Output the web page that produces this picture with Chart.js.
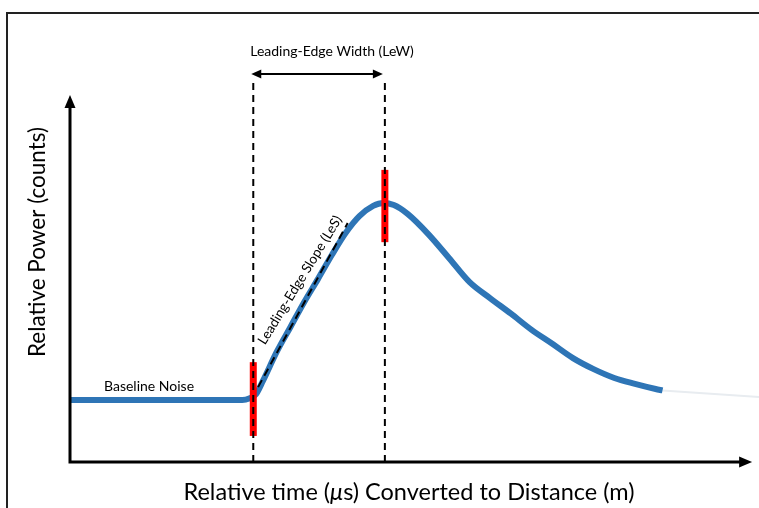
<!DOCTYPE html>
<html>
<head>
<meta charset="utf-8">
<script src="https://cdn.jsdelivr.net/npm/chart.js@4.4.0/dist/chart.umd.min.js"></script>
<style>
  body { margin: 0; background: #fff; }
  #wrap { width: 759px; height: 508px; }
</style>
</head>
<body>
<div id="wrap"><canvas id="myChart" width="759" height="508"></canvas></div>
<script>
// waveform (x = relative time, y = relative power, both 0-100)
const waveX = [0, 10, 20, 25, 26, 27, 28, 30, 32, 34, 36, 38, 40, 42, 44, 45.5, 47, 49, 52, 55, 58, 61, 64, 67, 70, 73, 76, 79, 82, 85, 86];
const waveY = [16.9, 16.9, 16.9, 16.9, 17.3, 18.5, 22.1, 30.0, 36.8, 43.6, 49.9, 56.4, 62.4, 67.0, 69.8, 70.6, 70.0, 67.6, 62.1, 55.6, 49.0, 44.6, 40.4, 36.0, 32.2, 28.3, 25.3, 22.9, 21.3, 19.9, 19.5];
// faded tail of the waveform
const tailX = [86, 100];
const tailY = [19.5, 17.7];

// leading edge start / peak markers
const edgeX = [26.6, 45.7];
const edgeLow = [7.1, 59.9];
const edgeHigh = [27.2, 79.6];
const guideTop = 103.5;
const lewY = 105.7;

// fitted leading-edge slope
const slopeX = [27.3, 40.3];
const slopeY = [20.4, 65.1];

const axisLabelX = "Relative time (μs) Converted to Distance (m)";
const axisLabelY = "Relative Power (counts)";
const lewLabel = "Leading-Edge Width (LeW)";
const lesLabel = "Leading-Edge Slope (LeS)";
const noiseLabel = "Baseline Noise";

const FONT = "Lato, 'Open Sans', sans-serif";

function pts(xs, ys) {
  return xs.map((x, i) => ({ x: x, y: ys[i] }));
}

const datasets = [];

// dashed guides (top-most)
edgeX.forEach((x) => {
  datasets.push({
    data: [{ x: x, y: 0 }, { x: x, y: guideTop }],
    borderColor: "#000",
    borderWidth: 2,
    borderDash: [7, 5],
    pointRadius: 0,
    clip: false,
    order: 0,
  });
});
datasets.push({
  data: pts(slopeX, slopeY),
  borderColor: "#000",
  borderWidth: 2,
  borderDash: [8, 5],
  pointRadius: 0,
  order: 0,
});

// red edge markers
edgeX.forEach((x, i) => {
  datasets.push({
    data: [{ x: x, y: edgeLow[i] }, { x: x, y: edgeHigh[i] }],
    borderColor: "#ff0000",
    borderWidth: 7,
    borderCapStyle: "butt",
    pointRadius: 0,
    clip: false,
    order: 1,
  });
});

// waveform
datasets.push({
  data: pts(waveX, waveY),
  borderColor: "#2e75b6",
  borderWidth: 6,
  cubicInterpolationMode: "monotone",
  pointRadius: 0,
  borderCapStyle: "butt",
  clip: false,
  order: 2,
});
datasets.push({
  data: pts(tailX, tailY),
  borderColor: "#e8ecf0",
  borderWidth: 2,
  pointRadius: 0,
  clip: false,
  order: 3,
});

function arrowHead(c, x, y, dir, len, half) {
  // dir: angle in radians the arrow points to
  c.save();
  c.translate(x, y);
  c.rotate(dir);
  c.beginPath();
  c.moveTo(0, 0);
  c.lineTo(-len, -half);
  c.lineTo(-len, half);
  c.closePath();
  c.fill();
  c.restore();
}

const decorations = {
  id: "decorations",
  afterDatasetsDraw(chart) {
    const c = chart.ctx;
    const xs = chart.scales.x;
    const ys = chart.scales.y;
    const x0 = xs.getPixelForValue(0);
    const y0 = ys.getPixelForValue(0);
    c.save();

    // frame
    c.strokeStyle = "#222";
    c.lineWidth = 2;
    c.strokeRect(7, 13, 900, 700);

    // axes with arrows
    c.strokeStyle = "#000";
    c.fillStyle = "#000";
    c.lineWidth = 3;
    c.beginPath();
    c.moveTo(x0, y0 + 1.5);
    c.lineTo(x0, chart.chartArea.top + 10);
    c.moveTo(x0 - 1.5, y0);
    c.lineTo(xs.getPixelForValue(99) - 10, y0);
    c.stroke();
    arrowHead(c, x0, chart.chartArea.top, -Math.PI / 2, 13, 5.5);
    arrowHead(c, xs.getPixelForValue(99), y0, 0, 13, 5.5);

    // LeW double arrow
    const ay = ys.getPixelForValue(lewY);
    const ax1 = xs.getPixelForValue(edgeX[0]) - 2;
    const ax2 = xs.getPixelForValue(edgeX[1]) - 2;
    c.lineWidth = 2;
    c.beginPath();
    c.moveTo(ax1 + 6, ay);
    c.lineTo(ax2 - 6, ay);
    c.stroke();
    arrowHead(c, ax1, ay, Math.PI, 10, 4.5);
    arrowHead(c, ax2, ay, 0, 10, 4.5);

    // texts
    c.fillStyle = "#000";
    c.textBaseline = "middle";
    c.textAlign = "center";
    c.font = "14px " + FONT;
    c.fillText(lewLabel, 332, 51);

    c.textAlign = "left";
    c.fillText(noiseLabel, 104, 386);

    c.save();
    c.translate(300, 280);
    c.rotate(-58.5 * Math.PI / 180);
    c.textAlign = "center";
    c.font = "13.6px " + FONT;
    c.fillText(lesLabel, 0, 0);
    c.restore();

    // y axis title
    c.save();
    c.translate(38, 242);
    c.rotate(-Math.PI / 2);
    c.textAlign = "center";
    c.font = "22.5px " + FONT;
    c.fillText(axisLabelY, 0, 0);
    c.restore();

    // x axis title with italic mu
    const parts = axisLabelX.split("μ");
    const normal = "23.5px " + FONT;
    const italic = "italic 23.5px " + FONT;
    c.font = normal;
    const w1 = c.measureText(parts[0]).width;
    const w3 = c.measureText(parts[1]).width;
    c.font = italic;
    const w2 = c.measureText("μ").width;
    let tx = 409 - (w1 + w2 + w3) / 2;
    const ty = 492;
    c.textAlign = "left";
    c.font = normal;
    c.fillText(parts[0], tx, ty);
    c.font = italic;
    c.fillText("μ", tx + w1, ty);
    c.font = normal;
    c.fillText(parts[1], tx + w1 + w2, ty);

    c.restore();
  },
};

const ctx = document.getElementById("myChart");
const config = {
  type: "line",
  data: { datasets: datasets },
  options: {
    responsive: false,
    animation: false,
    layout: { padding: { left: 70, right: 0, top: 95, bottom: 46 } },
    plugins: { legend: { display: false }, tooltip: { enabled: false } },
    scales: {
      x: { type: "linear", min: 0, max: 100, display: false },
      y: { type: "linear", min: 0, max: 100, display: false },
    },
  },
  plugins: [decorations],
};
const myChart = new Chart(ctx, config);
</script>
</body>
</html>
